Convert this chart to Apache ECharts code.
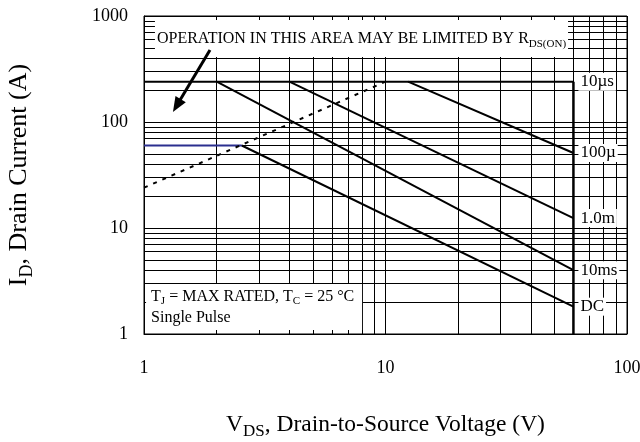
<!DOCTYPE html>
<html>
<head>
<meta charset="utf-8">
<script src="https://cdn.jsdelivr.net/npm/echarts@6/dist/echarts.min.js"></script>
<style>
html, body { margin: 0; padding: 0; background: #fff; }
#chart { width: 640px; height: 442px; }
</style>
</head>
<body>
<div id="chart"></div>
<script>
// minor grid lines (log decades)
const xMinor = [2, 3, 4, 5, 6, 7, 8, 9, 20, 30, 40, 50, 60, 70, 80, 90];
const yMinor = [2, 3, 4, 5, 6, 7, 8, 9, 20, 30, 40, 50, 60, 70, 80, 90,
  200, 300, 400, 500, 600, 700, 800, 900];

// SOA curves as [VDS, ID]
const curve10us = [[1, 240], [60, 240]];
const curve100us = [[12.4, 240], [60, 51]];
const curve1ms = [[4, 240], [60, 12.4]];
const curve10ms = [[2, 240], [60, 4]];
const curveDC = [[2.54, 60], [60, 1.81]];
const packageLimit = [[1, 60], [2.54, 60]];
const rdsLimit = [[1, 24], [10, 240]];
const vdsLimit = [[60, 240], [60, 1]];
const curveLabels = ['10µs', '100µ', '1.0m', '10ms', 'DC'];

const FONT = 'Liberation Serif';
const chart = echarts.init(document.getElementById('chart'));

function curve(name, data, label) {
  return {
    name: name,
    type: 'line',
    data: data,
    showSymbol: false,
    symbol: 'none',
    silent: true,
    z: 3,
    lineStyle: { color: '#000', width: 2 },
    endLabel: {
      show: !!label,
      formatter: label || '',
      distance: 5,
      fontFamily: FONT,
      fontSize: 17,
      color: '#000',
      backgroundColor: '#fff',
      padding: [1, 2, 0, 2]
    }
  };
}

function nameRich(big, small) {
  return {
    t: { fontFamily: FONT, fontSize: big, color: '#000', lineHeight: big + 8 },
    s: { fontFamily: FONT, fontSize: small, color: '#000', lineHeight: small, verticalAlign: 'bottom' }
  };
}

const option = {
  animation: false,
  backgroundColor: '#fff',
  grid: {
    left: 144, right: 13, top: 16, bottom: 108,
    outerBoundsMode: 'none',
    containLabel: false,
    show: true, borderColor: '#000', borderWidth: 1
  },
  xAxis: {
    type: 'log', logBase: 10, min: 1, max: 100,
    axisLine: { show: true, lineStyle: { color: '#000', width: 1 } },
    axisTick: { show: false },
    splitLine: { show: true, lineStyle: { color: '#000', width: 1 } },
    axisLabel: { fontFamily: FONT, fontSize: 18, color: '#000', margin: 25, formatter: v => String(v) },
    name: '{t|V}{s|DS}{t|, Drain-to-Source Voltage (V)}',
    nameLocation: 'middle',
    nameGap: 75,
    nameTextStyle: { rich: nameRich(23.5, 17) }
  },
  yAxis: {
    type: 'log', logBase: 10, min: 1, max: 1000,
    axisLine: { show: true, lineStyle: { color: '#000', width: 1 } },
    axisTick: { show: false },
    splitLine: { show: true, lineStyle: { color: '#000', width: 1 } },
    axisLabel: { fontFamily: FONT, fontSize: 18, color: '#000', margin: 16, formatter: v => String(v) },
    name: '{t|I}{s|D}{t|, Drain Current (A)}',
    nameLocation: 'middle',
    nameGap: 108,
    nameTextStyle: { rich: nameRich(26, 18) }
  },
  series: [
    // grid lines
    {
      type: 'line', data: [], silent: true, z: 1,
      markLine: {
        silent: true, z: 1, symbol: 'none', label: { show: false },
        lineStyle: { color: '#000', width: 1, type: 'solid' },
        data: xMinor.map(v => ({ xAxis: v })).concat(yMinor.map(v => ({ yAxis: v })))
      }
    },
    // white note boxes
    {
      type: 'line', data: [], silent: true, z: 2,
      markArea: {
        silent: true, z: 2,
        itemStyle: { color: '#fff', opacity: 1 },
        data: [
          [{
            coord: [1.11, 917],
            label: {
              show: true, position: 'insideLeft', distance: 2,
              formatter: '{t|OPERATION IN THIS AREA MAY BE LIMITED BY R}{s|DS(ON)}',
              rich: {
                t: { fontFamily: FONT, fontSize: 16, color: '#000', lineHeight: 22 },
                s: { fontFamily: FONT, fontSize: 11, color: '#000', lineHeight: 11, verticalAlign: 'bottom' }
              }
            }
          }, { coord: [57, 410] }],
          [{
            coord: [1.02, 2.97],
            label: {
              show: true, position: 'insideLeft', distance: 5,
              formatter: '{t|T}{s|J}{t| = MAX RATED, T}{s|C}{t| = 25 °C}\n{t|Single Pulse}',
              rich: {
                t: { fontFamily: FONT, fontSize: 16, color: '#000', lineHeight: 21 },
                s: { fontFamily: FONT, fontSize: 11, color: '#000', lineHeight: 11, verticalAlign: 'bottom' }
              }
            }
          }, { coord: [8.0, 1.09] }]
        ]
      }
    },
    curve('10us', curve10us, curveLabels[0]),
    curve('100us', curve100us, curveLabels[1]),
    curve('1ms', curve1ms, curveLabels[2]),
    curve('10ms', curve10ms, curveLabels[3]),
    curve('DC', curveDC, curveLabels[4]),
    {
      name: 'package', type: 'line', data: packageLimit, showSymbol: false, symbol: 'none',
      silent: true, z: 3, lineStyle: { color: '#2b2f8f', width: 2 }
    },
    {
      name: 'rds', type: 'line', data: rdsLimit, showSymbol: false, symbol: 'none',
      silent: true, z: 3, lineStyle: { color: '#000', width: 2, type: [4, 6] }
    },
    {
      name: 'vds', type: 'line', data: vdsLimit, showSymbol: false, symbol: 'none',
      silent: true, z: 3, lineStyle: { color: '#000', width: 2.5 }
    },
    // arrow into the RDS(on) region
    {
      type: 'line', data: [], silent: true, z: 4,
      markLine: {
        silent: true, z: 10,
        symbol: ['none', 'triangle'],
        symbolSize: [12, 15],
        label: { show: false },
        lineStyle: { color: '#000', width: 3, type: 'solid' },
        data: [[{ coord: [1.876, 478] }, { coord: [1.367, 143] }]]
      }
    }
  ]
};
chart.setOption(option);
</script>
</body>
</html>
